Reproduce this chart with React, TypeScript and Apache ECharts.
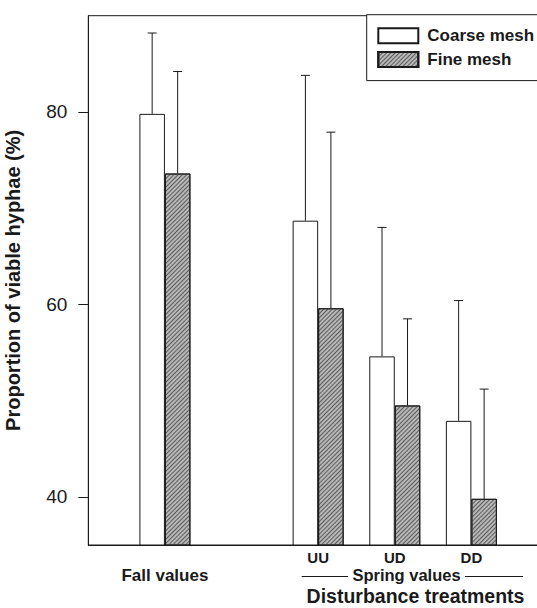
import React, { useEffect, useRef } from "react";
import * as echarts from "echarts";

const xPositions = [1, 3, 4, 5];
const xLabels = ["Fall values", "UU", "UD", "DD"];
const coarseMeans = [79.8, 68.7, 54.6, 47.9];
const coarseUpper = [88.2, 83.8, 68.0, 60.4];
const fineMeans = [73.6, 59.6, 49.5, 39.8];
const fineUpper = [84.2, 77.9, 58.5, 51.2];
const yTicks = [40, 60, 80];
const seriesNames = ["Coarse mesh", "Fine mesh"];

const FONT = "'Liberation Sans', Arial, Helvetica, sans-serif";
const INK = "#1a1a1a";
const BAR_W = 25.5;

const hatch = {
  symbol: "rect",
  symbolSize: 1,
  dashArrayX: [1, 0],
  dashArrayY: [0.8, 1.6],
  rotation: -Math.PI / 4,
  color: "#5a5a5a",
  backgroundColor: "#f6f6f6",
};

export default function App() {
  const ref = useRef<HTMLDivElement>(null);
  useEffect(() => {
    if (!ref.current) return;
    const chart = echarts.init(ref.current, null, { renderer: "svg" });
    const errData = [
      ...xPositions.map((x, i) => [x, coarseMeans[i], coarseUpper[i], -1]),
      ...xPositions.map((x, i) => [x, fineMeans[i], fineUpper[i], 1]),
    ];
    chart.setOption({
      animation: false,
      backgroundColor: "#ffffff",
      textStyle: { fontFamily: FONT, color: INK },
      grid: {
        left: 88.3,
        right: -11,
        top: 15.7,
        bottom: 63,
        containLabel: false,
        outerBoundsMode: "none",
        show: true,
        borderColor: INK,
        borderWidth: 1,
        backgroundColor: "transparent",
      },
      legend: {
        data: seriesNames,
        orient: "vertical",
        left: 366.7,
        top: 14.7,
        itemWidth: 40,
        itemHeight: 15,
        itemGap: 6.7,
        icon: "rect",
        padding: [12.6, 40, 12.6, 10.6],
        borderColor: INK,
        borderWidth: 1,
        backgroundColor: "#ffffff",
        textStyle: {
          fontFamily: FONT,
          fontSize: 17,
          fontWeight: "bold",
          color: INK,
          padding: [0, 0, 0, 4],
          lineHeight: 15,
        },
      },
      xAxis: {
        type: "value",
        min: 0,
        max: 6,
        interval: 1,
        axisLine: { show: true, lineStyle: { color: INK, width: 1 } },
        axisTick: { show: false },
        splitLine: { show: false },
        axisLabel: {
          margin: 5,
          formatter: (v: number) => {
            const i = xPositions.indexOf(v);
            if (i < 0) return "";
            return i === 0 ? `{f|${xLabels[i]}}` : `{c|${xLabels[i]}}`;
          },
          rich: {
            f: {
              fontFamily: FONT,
              fontSize: 17,
              fontWeight: "bold",
              color: INK,
              padding: [17, 0, 0, 0],
            },
            c: {
              fontFamily: FONT,
              fontSize: 15,
              fontWeight: "bold",
              color: INK,
            },
          },
        },
      },
      yAxis: {
        type: "value",
        min: 35,
        max: 90,
        name: "Proportion of viable hyphae (%)",
        nameLocation: "middle",
        nameGap: 65,
        nameTextStyle: {
          fontFamily: FONT,
          fontSize: 20,
          fontWeight: "bold",
          color: INK,
        },
        axisLine: { show: true, lineStyle: { color: INK, width: 1 } },
        axisTick: {
          show: true,
          length: 10,
          customValues: yTicks,
          lineStyle: { color: INK, width: 1 },
        },
        axisLabel: {
          customValues: yTicks,
          fontFamily: FONT,
          fontSize: 19,
          color: INK,
          margin: 21,
        },
        splitLine: { show: false },
      },
      series: [
        {
          name: seriesNames[0],
          type: "bar",
          barWidth: BAR_W,
          barGap: "0%",
          data: xPositions.map((x, i) => [x, coarseMeans[i]]),
          itemStyle: { color: "#ffffff", borderColor: INK, borderWidth: 1 },
          z: 2,
        },
        {
          name: seriesNames[1],
          type: "bar",
          barWidth: BAR_W,
          barGap: "0%",
          data: xPositions.map((x, i) => [x, fineMeans[i]]),
          itemStyle: {
            color: "#b8b8b8",
            borderColor: INK,
            borderWidth: 1,
            decal: hatch,
          },
          z: 2,
        },
        {
          type: "custom",
          z: 3,
          data: errData,
          renderItem: (params: any, api: any) => {
            const x = api.value(0);
            const base = api.coord([x, api.value(1)]);
            const top = api.coord([x, api.value(2)]);
            const cx = base[0] + api.value(3) * (BAR_W / 2);
            const style = { stroke: INK, lineWidth: 1 };
            return {
              type: "group",
              children: [
                { type: "line", shape: { x1: cx, y1: base[1], x2: cx, y2: top[1] }, style },
                { type: "line", shape: { x1: cx - 4.5, y1: top[1], x2: cx + 4.5, y2: top[1] }, style },
              ],
            };
          },
        },
      ],
      graphic: [
        {
          type: "line",
          shape: { x1: 301.7, y1: 576.5, x2: 348, y2: 576.5 },
          style: { stroke: INK, lineWidth: 1 },
        },
        {
          type: "line",
          shape: { x1: 465, y1: 576.5, x2: 523, y2: 576.5 },
          style: { stroke: INK, lineWidth: 1 },
        },
        {
          type: "text",
          x: 406.5,
          y: 575,
          style: {
            text: "Spring values",
            fontFamily: FONT,
            fontSize: 16.5,
            fontWeight: "bold",
            fill: INK,
            align: "center",
            verticalAlign: "middle",
          },
        },
        {
          type: "text",
          x: 415.5,
          y: 596,
          style: {
            text: "Disturbance treatments",
            fontFamily: FONT,
            fontSize: 19.5,
            fontWeight: "bold",
            fill: INK,
            align: "center",
            verticalAlign: "middle",
          },
        },
      ],
    });
    return () => chart.dispose();
  }, []);
  return (
    <div
      ref={ref}
      style={{ position: "fixed", left: 0, top: 0, width: 537, height: 608, background: "#fff" }}
    />
  );
}
